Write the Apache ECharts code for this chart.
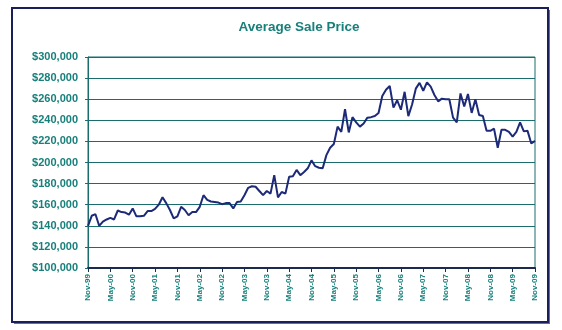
<!DOCTYPE html>
<html>
<head>
<meta charset="utf-8">
<script src="https://cdn.jsdelivr.net/npm/echarts@6/dist/echarts.min.js"></script>
<style>
html,body{margin:0;padding:0;background:#fff;}
#c{width:562px;height:330px;}
</style>
</head>
<body>
<div id="c"></div>
<script>
var titleText = "Average Sale Price";
var monthNames = ["Jan","Feb","Mar","Apr","May","Jun","Jul","Aug","Sep","Oct","Nov","Dec"];
var startMonth = 10; // Nov
var startYear = 1999;
var prices = [
  140, 149.5, 151, 140, 144, 146, 147.5, 146, 154.5, 153,
  152.5, 150.5, 156.5, 149, 149, 149.5, 154, 154, 156, 160,
  167, 161.5, 155, 147, 149, 158, 155, 150, 153, 153,
  158, 169, 164.5, 163, 162.5, 162, 160.5, 161.5, 161.5, 156.5,
  162.5, 163, 169, 176, 177.5, 177, 173, 169, 173, 170.5,
  188, 167, 172, 170.5, 186.5, 187, 193, 188, 191, 194.5,
  202, 196.5, 195, 194.5, 207, 214, 217.5, 234, 229, 250.5,
  228.5, 243, 238, 234, 237, 242.5, 243, 244, 247, 263,
  269, 272.5, 252, 259, 250, 267, 244, 255, 270, 275.5,
  268, 276, 272, 264, 258, 260.5, 260, 260, 242.5, 238,
  265.5, 253, 265, 247, 260, 245, 244, 230, 230, 232,
  214, 231, 231, 229, 224.5, 229, 238, 229.5, 230, 218, 220.5
].map(function(v){ return v * 1000; });

var categories = [];
for (var i = 0; i < prices.length; i++) {
  var m = (startMonth + i) % 12;
  var y = startYear + Math.floor((startMonth + i) / 12);
  categories.push(monthNames[m] + "-" + String(y % 100).padStart(2, "0"));
}

var teal = "#17807b";
var gridTeal = "#1b6d6d";
var navy = "#1c2a78";

var chart = echarts.init(document.getElementById("c"), null, {renderer: "canvas"});
chart.setOption({
  backgroundColor: "#ffffff",
  animation: false,
  title: {
    text: titleText,
    left: 294, top: 15, textAlign: "center",
    textStyle: {fontFamily: "Liberation Sans, Arial, sans-serif", fontSize: 13.5, fontWeight: "bold", color: teal}
  },
  graphic: [
    {type: "rect", shape: {x: 14, y: 10, width: 536, height: 314}, style: {fill: "#6b6f80", stroke: null}, z: -2},
    {type: "rect", shape: {x: 12, y: 8, width: 536, height: 314}, style: {fill: "#ffffff", stroke: "#1a1f5c", lineWidth: 2}, z: -1}
  ],
  grid: {
    left: 88, right: 27, top: 57, bottom: 62,
    show: true, borderColor: gridTeal, borderWidth: 1, backgroundColor: "transparent"
  },
  xAxis: {
    type: "category",
    data: categories,
    boundaryGap: false,
    axisLine: {show: true, lineStyle: {color: "#1c2a50", width: 2}},
    axisTick: {show: true, interval: 5, length: 4, inside: false, lineStyle: {color: "#1c2a50", width: 1}},
    axisLabel: {
      interval: 5, rotate: 90, margin: 6,
      fontFamily: "Liberation Sans, Arial, sans-serif", fontSize: 8, fontWeight: "bold", color: teal
    },
    splitLine: {show: false}
  },
  yAxis: {
    type: "value",
    min: 100000, max: 300000, interval: 20000,
    axisLine: {show: true, lineStyle: {color: gridTeal, width: 1}},
    axisTick: {show: true, length: 3, lineStyle: {color: gridTeal}},
    axisLabel: {
      margin: 10,
      fontFamily: "Liberation Sans, Arial, sans-serif", fontSize: 11, fontWeight: "bold", color: teal,
      formatter: function(v){ return "$" + v.toLocaleString("en-US"); }
    },
    splitLine: {show: true, lineStyle: {color: gridTeal, width: 1}}
  },
  series: [{
    type: "line",
    data: prices,
    showSymbol: false,
    symbol: "none",
    lineStyle: {color: navy, width: 2},
    itemStyle: {color: navy}
  }]
});
</script>
</body>
</html>
